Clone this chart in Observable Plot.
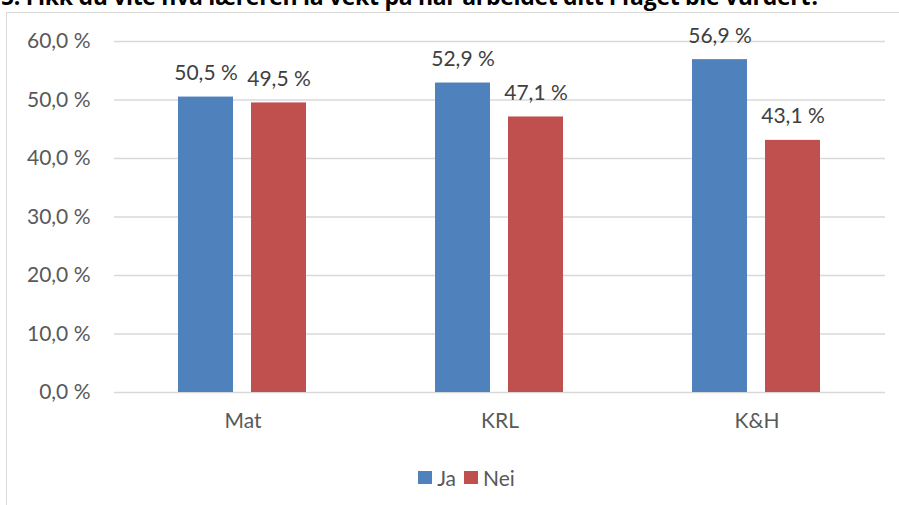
<!DOCTYPE html>
<html>
<head>
<meta charset="utf-8">
<script src="https://cdn.jsdelivr.net/npm/d3@7"></script>
<script src="https://cdn.jsdelivr.net/npm/@observablehq/plot@0.6"></script>
<style>
  html, body { margin: 0; padding: 0; background: #fff; }
  #wrap { position: relative; width: 899px; height: 505px; overflow: hidden; font-family: Lato, "Open Sans", sans-serif; }
  #title { position: absolute; left: 1px; top: -15px; line-height: 23px; font: bold 23px/23px "Open Sans", Lato, sans-serif; color: #000; white-space: nowrap; letter-spacing: -0.3px; }
  #frame { position: absolute; left: 6px; top: 12px; width: 900px; height: 500px; border-left: 1.5px solid #d9d9d9; border-top: 1.5px solid #d9d9d9; }
  #chart { position: absolute; left: 0; top: 0; }
  #legend { position: absolute; top: 463px; left: 0; width: 933px; text-align: center; font-size: 21px; color: #595959; }
  #legend span.item { display: inline-flex; align-items: center; margin: 0 4px; }
  #legend span.sw { display: inline-block; width: 14px; height: 13px; margin-right: 5px; }
</style>
</head>
<body>
<div id="wrap">
  <div id="title">5. Fikk du vite hva læreren la vekt på når arbeidet ditt i faget ble vurdert?</div>
  <div id="frame"></div>
  <div id="chart"></div>
  <div id="legend"></div>
</div>
<script>
const categories = ["Mat", "KRL", "K&H"];
const seriesNames = ["Ja", "Nei"];
const jaValues = [50.5, 52.9, 56.9];
const neiValues = [49.5, 47.1, 43.1];
const seriesColors = ["#4f81bd", "#c0504d"];
const yTicks = [0, 10, 20, 30, 40, 50, 60];

const data = [];
categories.forEach((c, i) => {
  data.push({category: c, series: "Ja", value: jaValues[i]});
  data.push({category: c, series: "Nei", value: neiValues[i]});
});

const fmt = v => v.toFixed(1).replace(".", ",") + " %";

const chart = Plot.plot({
  width: 899,
  height: 440,
  marginLeft: 113,
  marginRight: 13,
  marginTop: 41,
  marginBottom: 48,
  style: {fontFamily: "Lato, 'Open Sans', sans-serif", fontSize: "21px", color: "#595959", background: "transparent"},
  fx: {domain: categories, padding: 0, label: null, axis: "bottom", tickSize: 0, tickPadding: 21},
  x: {domain: seriesNames, paddingInner: 0.24, paddingOuter: 0.86, axis: null},
  y: {domain: [0, 60], ticks: yTicks, tickFormat: fmt, label: null, tickSize: 0, tickPadding: 24},
  color: {domain: seriesNames, range: seriesColors},
  marks: [
    Plot.ruleY(yTicks, {stroke: "#d9d9d9", strokeWidth: 1.5, facetAnchor: null}),
    Plot.barY(data, {fx: "category", x: "series", y: "value", fill: "series", inset: 0}),
    Plot.text(data, {fx: "category", x: "series", y: "value", text: d => fmt(d.value), lineAnchor: "bottom", dy: -17, fill: "#404040", fontSize: 21})
  ]
});
document.getElementById("chart").appendChild(chart);

const legend = document.getElementById("legend");
seriesNames.forEach((s, i) => {
  const item = document.createElement("span");
  item.className = "item";
  const sw = document.createElement("span");
  sw.className = "sw";
  sw.style.background = seriesColors[i];
  item.appendChild(sw);
  item.appendChild(document.createTextNode(s));
  legend.appendChild(item);
});
</script>
</body>
</html>
